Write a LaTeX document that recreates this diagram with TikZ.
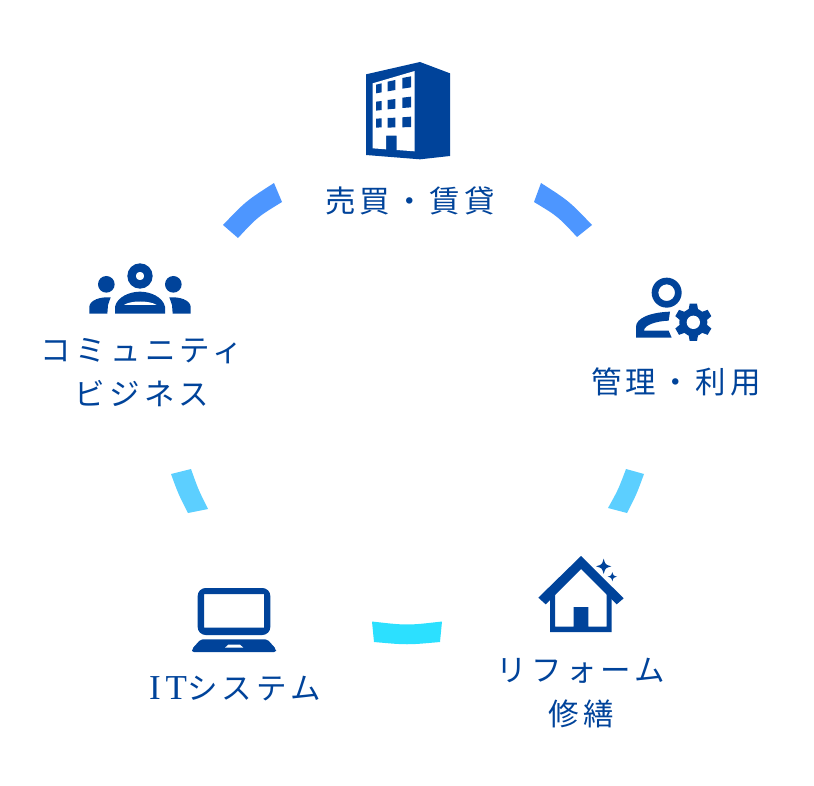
\documentclass[tikz,border=0pt]{standalone}
\usepackage{fontspec}
\setmainfont[LetterSpace=14]{Noto Sans CJK JP}
\newfontfamily\latinfont[LetterSpace=14]{Liberation Serif}
\definecolor{ringBlue}{HTML}{00439A}
\definecolor{segTop}{HTML}{4D96FF}
\definecolor{segMid}{HTML}{5CCFFF}
\definecolor{segLow}{HTML}{2CE0FF}

\begin{document}
\begin{tikzpicture}[
      x=1pt, y=-1pt,
      label/.style={text=ringBlue, align=center, inner sep=0pt,
                    font=\fontsize{30.5}{44}\selectfont},
      icon/.style={shift={#1}, scale=1/3},
      solid/.style={fill=ringBlue, draw=none},
      hole/.style={fill=white, draw=none}
    ]
    \useasboundingbox (0,0) rectangle (814,786);

    % ring segments
    \fill[segTop] (223,225) .. controls (246,201) .. (274,183) -- (282,202)
      .. controls (257.5,217) .. (238,238) -- cycle;
    \fill[segTop] (541,183) .. controls (569,201) .. (592,225) -- (577,237)
      .. controls (558,216.5) .. (534,202) -- cycle;
    \fill[segMid] (171,474) .. controls (178.3,494) .. (188,513) -- (208,509)
      .. controls (198.3,489.5) .. (191,469) -- cycle;
    \fill[segMid] (644,474) .. controls (636.7,494) .. (627,513) -- (608,508)
      .. controls (618.3,489.5) .. (626,469) -- cycle;
    \fill[segLow] (372,621.5) .. controls (407,625.5) .. (442,621.5) -- (440,642)
      .. controls (407,645) .. (374,642) -- cycle;

    % labels
    \node[label] (sales) at (410,201) {売買・賃貸};
    \node[label] (manage) at (676,382) {管理・利用};
    \node[label] (reform) at (581,693) {リフォーム\\修繕};
    \node[label] (itsys) at (235,689) {{\latinfont\fontsize{35}{44}\selectfont IT}システム};
    \node[label] (community) at (142,373) {コミュニティ\\ビジネス};

    % building
    \begin{scope}[icon={(340,50)}]
      \fill[solid] (78,73) -- (240,36) -- (330,70) -- (330,318) -- (240,328) -- (78,315) -- cycle;
      \fill[hole] (98,100) -- (224,63) -- (224,304) -- (170,300) -- (170,257)
        -- (138,257) -- (138,298) -- (98,295) -- cycle;
      \foreach \xa/\xb/\ya/\yb/\yc/\yd in {
          108/125/104/100/127/130, 143/166/95/90/120/124, 187/213/84/79/112/116,
          108/125/155/153/180/182, 143/166/150/147/176/178, 187/213/143/140/172/174,
          108/125/206/205/232/233, 143/166/204/203/232/233, 187/213/202/200/231/232}
        \fill[solid] (\xa,\ya) -- (\xb,\yb) -- (\xb,\yc) -- (\xa,\yd) -- cycle;
    \end{scope}

    % person with gear
    \begin{scope}[icon={(620,265)}]
      \fill[solid, even odd rule] (140,83) circle (45) (140,83) circle (25);
      \fill[solid] (48,218) -- (48,185) .. controls (48,160) and (90,142) .. (150,140)
        -- (146,167) .. controls (110,168) and (72,180) .. (72,197) -- (146,197)
        -- (155,218) -- cycle;
      \fill[hole] (220,172) circle (66);
      \foreach \a in {30,90,...,330}
        \fill[solid, rotate around={\a:(220,172)}] (248,156) -- (276,161) -- (276,183) -- (248,188) -- cycle;
      \fill[solid] (220,172) circle (42);
      \fill[hole] (220,172) circle (20);
    \end{scope}

    % house
    \begin{scope}[icon={(525,545)}]
      \fill[solid] (168,33) -- (296,160) -- (275,178) -- (168,72) -- (62,178) -- (40,158) -- cycle;
      \fill[solid] (75,261) -- (75,160) -- (90,145) -- (90,245) -- (146,245) -- (146,186)
        -- (190,186) -- (190,245) -- (245,245) -- (245,145) -- (260,160) -- (260,261) -- cycle;
      \foreach \cx/\cy/\r in {236/64/23, 262/95/14}
        \fill[solid] (\cx,\cy-\r) .. controls (\cx+0.22*\r,\cy-0.22*\r) .. (\cx+\r,\cy)
          .. controls (\cx+0.22*\r,\cy+0.22*\r) .. (\cx,\cy+\r)
          .. controls (\cx-0.22*\r,\cy+0.22*\r) .. (\cx-\r,\cy)
          .. controls (\cx-0.22*\r,\cy-0.22*\r) .. cycle;
    \end{scope}

    % laptop
    \begin{scope}[icon={(180,575)}]
      \fill[solid, even odd rule, rounded corners=8] (53,39) rectangle (271,180)
        [sharp corners] (72,57) rectangle (252,158);
      \fill[solid, rounded corners=2] (62,193) -- (262,193) -- (288,222) -- (288,231)
        -- (36,231) -- (36,222) -- cycle;
      \fill[hole] (145,209) -- (180,209) -- (190,218) -- (135,218) -- cycle;
    \end{scope}

    % three people
    \begin{scope}[icon={(80,255)}]
      \fill[solid, even odd rule] (180,63) circle (38) (180,63) circle (13);
      \fill[solid] (79,88) circle (25);
      \fill[solid] (280,88) circle (25);
      \fill[solid] (105,176) -- (105,155) .. controls (112,125) and (150,110) .. (180,110)
        .. controls (210,110) and (248,125) .. (255,155) -- (255,176) -- cycle;
      \fill[hole] (132,150) .. controls (150,136) and (210,136) .. (230,150) -- cycle;
      \fill[solid] (28,176) -- (28,155) .. controls (30,135) and (60,125) .. (92,127)
        -- (84,150) -- (82,176) -- cycle;
      \fill[solid] (332,176) -- (332,155) .. controls (330,135) and (300,125) .. (268,127)
        -- (276,150) -- (278,176) -- cycle;
    \end{scope}
  \end{tikzpicture}
\end{document}
